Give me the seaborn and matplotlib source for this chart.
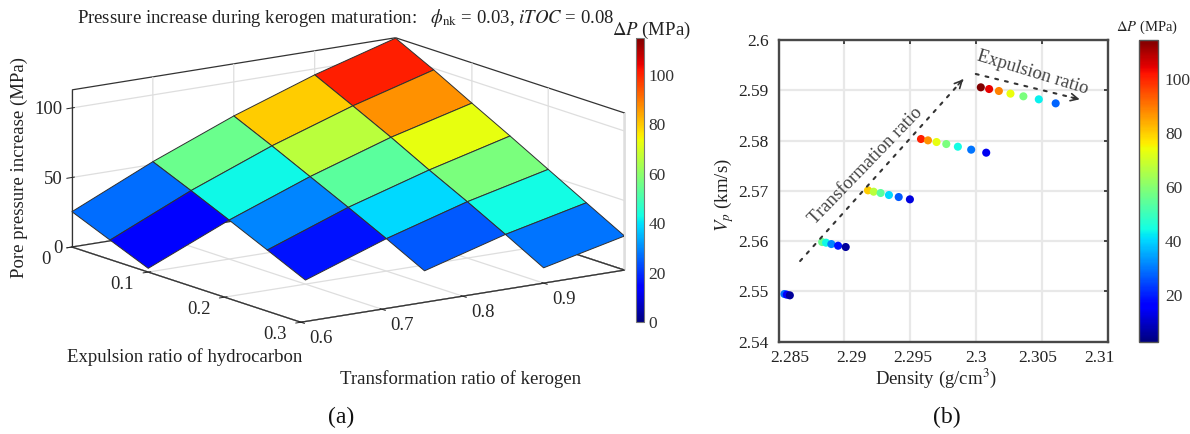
import numpy as np
import matplotlib
matplotlib.use("Agg")
import matplotlib.pyplot as plt
import seaborn as sns
from matplotlib.cm import ScalarMappable
from matplotlib.colors import Normalize
from matplotlib.transforms import ScaledTranslation
from mpl_toolkits.mplot3d.art3d import Poly3DCollection

# expulsion ratio grid, one pressure row per transformation ratio
transformation = [0.6, 0.7, 0.8, 0.9, 1.0]
expulsion = [0, 0.05, 0.1, 0.15, 0.2, 0.25, 0.3]
dp_t60 = [25.4, 14.0, 2.7]
dp_t70 = [52.0, 40.2, 28.0, 15.5, 2.9]
dp_t80 = [75.5, 63.0, 49.9, 36.8, 23.3, 9.2]
dp_t90 = [95.7, 82.4, 68.8, 54.3, 40.5, 26.0, 11.0]
dp_t100 = [112.7, 98.9, 84.0, 69.4, 54.4, 39.4, 24.5]

# density and velocity for the same points (panel b)
rho_t60 = [2.28545, 2.28563, 2.28586]
vp_t60 = [2.54948, 2.54935, 2.54922]
rho_t70 = [2.28831, 2.28861, 2.28901, 2.28952, 2.2901]
vp_t70 = [2.55982, 2.55969, 2.55942, 2.55909, 2.55883]
rho_t80 = [2.29179, 2.29222, 2.29275, 2.29338, 2.29412, 2.29497]
vp_t80 = [2.5701, 2.56983, 2.56957, 2.56917, 2.56877, 2.56831]
rho_t90 = [2.29581, 2.29634, 2.29699, 2.29773, 2.29861, 2.29962, 2.30076]
vp_t90 = [2.58031, 2.58004, 2.57971, 2.57931, 2.57878, 2.57819, 2.57759]
rho_t100 = [2.30035, 2.30098, 2.30172, 2.3026, 2.30358, 2.30475, 2.30603]
vp_t100 = [2.59059, 2.59025, 2.58986, 2.58933, 2.5888, 2.5882, 2.5874]

x_ticks = [2.285, 2.29, 2.295, 2.3, 2.305, 2.31]
x_labels = ["2.285", "2.29", "2.295", "2.3", "2.305", "2.31"]
y_ticks = [2.54, 2.55, 2.56, 2.57, 2.58, 2.59, 2.6]
y_labels = ["2.54", "2.55", "2.56", "2.57", "2.58", "2.59", "2.6"]

sns.set_theme(style="white", rc={"grid.color": "#dedede", "grid.linewidth": 0.9,
                                 "xtick.major.width": 0.7, "ytick.major.width": 0.7})
plt.rcParams["font.family"] = "Liberation Serif"
plt.rcParams["mathtext.fontset"] = "stix"

W, H = 1190, 434
fig = plt.figure(figsize=(W / 100, H / 100), dpi=100)


def rect(x0, y0, x1, y1):
    # pixel box (y down) to figure fractions
    return [x0 / W, 1 - y1 / H, (x1 - x0) / W, (y1 - y0) / H]


def nudge(labels, dx, dy):
    # move tick labels by a few pixels
    for lab in labels:
        lab.set_transform(lab.get_transform() + ScaledTranslation(dx / 100, dy / 100, fig.dpi_scale_trans))


# (a) surface
ax = fig.add_axes(rect(56.9, -96, 624.2, 471.3), projection="3d", proj_type="ortho")
ax.view_init(elev=13.3, azim=-35)
ax.set_box_aspect((399, 395, 161.4))
ax.set_xlim(0, 0.3, view_margin=0)
ax.set_ylim(0.6, 1.0, view_margin=0)
ax.set_zlim(0, 113, view_margin=0)
ax.patch.set_alpha(0)

# colours of the marks saturate a little before the colorbar top
norm_cells = Normalize(0, 109)
norm_a = Normalize(0, 115)
jet = plt.get_cmap("jet")
rows = [dp_t60, dp_t70, dp_t80, dp_t90, dp_t100]
cells, colors = [], []
for i in range(len(rows) - 1):
    n = min(len(rows[i]), len(rows[i + 1])) - 1
    for j in range(n):
        cells.append([
            (expulsion[j], transformation[i], rows[i][j]),
            (expulsion[j + 1], transformation[i], rows[i][j + 1]),
            (expulsion[j + 1], transformation[i + 1], rows[i + 1][j + 1]),
            (expulsion[j], transformation[i + 1], rows[i + 1][j]),
        ])
        colors.append(jet(norm_cells(rows[i][j])))
surf = Poly3DCollection(cells, facecolors=colors, edgecolors="#303030", linewidths=0.7)
ax.add_collection3d(surf)

ax.set_xticks([0, 0.1, 0.2, 0.3])
ax.set_xticklabels(["0", "0.1", "0.2", "0.3"])
ax.set_yticks([0.6, 0.7, 0.8, 0.9])
ax.set_yticklabels(["0.6", "0.7", "0.8", "0.9"])
ax.set_zticks([0, 50, 100])
ax.tick_params(axis="both", labelsize=13.5, colors="#262626")
ax.tick_params(axis="x", pad=9)
ax.tick_params(axis="y", pad=11)
ax.tick_params(axis="z", pad=-4.5)
ax.zaxis.set_ticks_position("lower")
for axis in (ax.xaxis, ax.yaxis, ax.zaxis):
    axis.set_pane_color((1, 1, 1, 1))
    axis.pane.set_edgecolor("#333333")
    axis.pane.set_linewidth(0.9)
    axis.line.set_color("#333333")
    axis.line.set_linewidth(0.9)
for axis in (ax.xaxis, ax.yaxis):
    for lab in axis.get_ticklabels():
        lab.set_verticalalignment("baseline")
for lab in ax.zaxis.get_ticklabels():
    lab.set_horizontalalignment("right")
    lab.set_verticalalignment("center_baseline")
# floor edges again, the z=0 grid line sits right on top of them
ax.plot([0, 0.3], [1, 1], [0, 0], color="#333333", lw=0.9, zorder=1)
ax.plot([0, 0], [0.6, 1], [0, 0], color="#333333", lw=0.9, zorder=1)

fig.text(77 / W, 1 - 18 / H,
         r"Pressure increase during kerogen maturation:   $\phi_{\rm nk}$ = 0.03, $iTOC$ = 0.08",
         ha="left", va="center", fontsize=13.5, color="#222222")
fig.text(185 / W, 1 - 357 / H, "Expulsion ratio of hydrocarbon", ha="center", va="center", fontsize=13.5, color="#222222")
fig.text(461 / W, 1 - 379 / H, "Transformation ratio of kerogen", ha="center", va="center", fontsize=13.5, color="#222222")
fig.text(19 / W, 1 - 168 / H, "Pore pressure increase (MPa)", rotation=90, ha="center", va="center", fontsize=13.5, color="#222222")
fig.text(651 / W, 1 - 30 / H, r"$\Delta P$ (MPa)", ha="center", va="center", fontsize=13.5, color="#222222")

cax_a = fig.add_axes(rect(636, 38, 644, 322))
cb_a = fig.colorbar(ScalarMappable(norm_a, jet), cax=cax_a)
cb_a.set_ticks([0, 20, 40, 60, 80, 100])
cb_a.ax.tick_params(labelsize=12.5, direction="in", length=2, colors="#333333", pad=3)
cb_a.outline.set_linewidth(0.8)
cb_a.outline.set_edgecolor("#777777")

# (b) scatter
axb = fig.add_axes(rect(778.5, 40, 1108, 341.7))
density = rho_t100 + rho_t90 + rho_t80 + rho_t70 + rho_t60
vp = vp_t100 + vp_t90 + vp_t80 + vp_t70 + vp_t60
pressure = dp_t100 + dp_t90 + dp_t80 + dp_t70 + dp_t60
norm_b = (2.6, 114.3)
axb.grid(True, color="#e8e8e8", linewidth=1.6)
axb.set_axisbelow(True)
sns.scatterplot(x=density, y=vp, hue=pressure, hue_norm=(0, 109), palette=jet,
                s=34, linewidth=0, legend=False, ax=axb, zorder=3)
axb.set_xlim(2.285, 2.31)
axb.set_ylim(2.54, 2.6)
axb.set_xticks(x_ticks)
axb.set_xticklabels(x_labels)
axb.set_yticks(y_ticks)
axb.set_yticklabels(y_labels)
axb.tick_params(direction="in", length=3, width=1.4, color="#444444", top=True, right=True,
                labelsize=12.5, labelcolor="#222222", pad=6)
# the tick labels in the reference sit slightly inside their ticks
for lab, dx in zip(axb.get_xticklabels(), [11, 6.7, 2, 0, -4.3, -9]):
    nudge([lab], dx, 0)
nudge(axb.get_yticklabels(), -1.5, 0)
for s in axb.spines.values():
    s.set_color("#484848")
    s.set_linewidth(1.7)
axb.set_xlabel("")
axb.set_ylabel("")
fig.text(936 / W, 1 - 378 / H, r"Density (g/cm$^3$)", ha="center", va="center", fontsize=13.5, color="#222222")
fig.text(724 / W, 1 - 195 / H, r"$V_p$ (km/s)", rotation=90, ha="center", va="center", fontsize=13.5, color="#222222")

# dotted guide lines, the open arrow heads are drawn solid on their ends
dots = dict(arrowstyle="-", linestyle=(0, (1.4, 3.4)), color="#333333", linewidth=1.5, shrinkA=0, shrinkB=0)
head = dict(arrowstyle="->", color="#333333", linewidth=1.2, mutation_scale=13, shrinkA=0, shrinkB=0)
axb.annotate("", xy=(2.29901, 2.59218), xytext=(2.28664, 2.55604), arrowprops=dots)
axb.annotate("", xy=(2.29901, 2.59218), xytext=(2.29863, 2.59110), arrowprops=head)
axb.annotate("", xy=(2.30785, 2.5882), xytext=(2.29997, 2.59324), arrowprops=dots)
axb.annotate("", xy=(2.30785, 2.5882), xytext=(2.30722, 2.5886), arrowprops=head)
axb.text(2.29165, 2.5750, "Transformation ratio", rotation=46, ha="center", va="center",
         fontsize=13.5, color="#444444", rotation_mode="anchor")
axb.text(2.30432, 2.5934, "Expulsion ratio", rotation=-17, ha="center", va="center",
         fontsize=13.5, color="#444444", rotation_mode="anchor")

cax_b = fig.add_axes(rect(1139, 40, 1158, 341.7))
cb_b = fig.colorbar(ScalarMappable(Normalize(*norm_b), jet), cax=cax_b)
cb_b.set_ticks([20, 40, 60, 80, 100])
cb_b.ax.tick_params(labelsize=12.5, direction="in", length=2.5, width=0.8, colors="#333333", pad=5)
cb_b.outline.set_edgecolor("#555555")
cb_b.outline.set_linewidth(1)
fig.text(1147 / W, 1 - 27 / H, r"$\Delta P$ (MPa)", ha="center", va="center", fontsize=10.5, color="#222222")

fig.text(341 / W, 1 - 417 / H, "(a)", ha="center", va="center", fontsize=17, color="#111111")
fig.text(947 / W, 1 - 417 / H, "(b)", ha="center", va="center", fontsize=17, color="#111111")

fig.savefig("out.png", dpi=100)
